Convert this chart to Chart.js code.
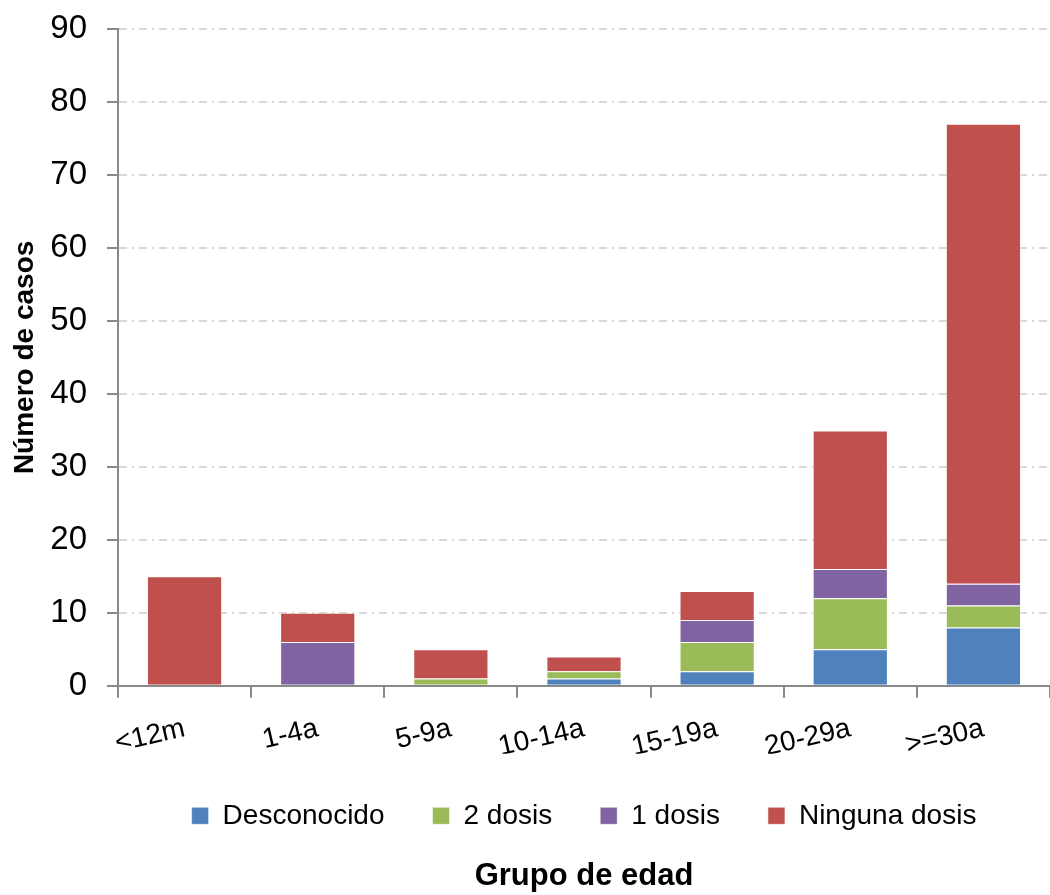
<!DOCTYPE html>
<html>
<head>
<meta charset="utf-8">
<script src="https://cdn.jsdelivr.net/npm/chart.js@4/dist/chart.umd.min.js"></script>
<style>
  body { margin: 0; background: #fff; }
  #wrap { width: 1050px; height: 895px; }
</style>
</head>
<body>
<div id="wrap"><canvas id="edadChart" width="1050" height="895"></canvas></div>
<script>
// Grupos de edad y casos por estado vacunal
const grupos = ['<12m', '1-4a', '5-9a', '10-14a', '15-19a', '20-29a', '>=30a'];
const desconocido = [0, 0, 0, 1, 2, 5, 8];
const dosDosis = [0, 0, 1, 1, 4, 7, 3];
const unaDosis = [0, 6, 0, 0, 3, 4, 3];
const ningunaDosis = [15, 4, 4, 2, 4, 19, 63];
const yTicks = [0, 10, 20, 30, 40, 50, 60, 70, 80, 90];

Chart.defaults.font.family = '"Liberation Sans", Arial, sans-serif';
Chart.defaults.color = '#000';

function serie(label, data, color) {
    return {
        label: label,
        data: data,
        backgroundColor: color,
        borderColor: 'rgba(255,255,255,0.5)',
        borderWidth: 1,
        barPercentage: 0.565,
        categoryPercentage: 1
    };
}

new Chart(document.getElementById('edadChart'), {
    type: 'bar',
    data: {
        labels: grupos,
        datasets: [
            serie('Desconocido', desconocido, '#4F81BD'),
            serie('2 dosis', dosDosis, '#9BBB59'),
            serie('1 dosis', unaDosis, '#8064A2'),
            serie('Ninguna dosis', ningunaDosis, '#C0504D')
        ]
    },
    options: {
        responsive: false,
        animation: false,
        layout: { padding: { top: 29, right: -12, left: 0, bottom: 0 } },
        plugins: {
            tooltip: { enabled: false },
            legend: {
                position: 'bottom',
                fullSize: false,
                labels: {
                    font: { size: 28 },
                    boxWidth: 17,
                    boxHeight: 17,
                    padding: 48
                }
            },
            title: {
                display: true,
                position: 'bottom',
                fullSize: false,
                text: 'Grupo de edad',
                font: { size: 31, weight: 'bold' },
                padding: { top: 18, bottom: 0 }
            }
        },
        scales: {
            x: {
                stacked: true,
                offset: true,
                afterFit: s => { s.height = 68; },
                grid: {
                    display: true,
                    offset: true,
                    drawOnChartArea: false,
                    drawTicks: true,
                    tickLength: 12,
                    color: '#898989',
                    lineWidth: 2
                },
                border: { color: '#898989', width: 2 },
                ticks: {
                    font: { size: 28 },
                    minRotation: 13,
                    maxRotation: 13,
                    padding: 14
                }
            },
            y: {
                stacked: true,
                min: 0,
                max: 90,
                afterBuildTicks: axis => { axis.ticks = yTicks.map(v => ({ value: v })); },
                afterFit: s => {
                    s.width = 118;
                    s.paddingTop = 0;
                    s.paddingBottom = 0;
                },
                grid: {
                    color: '#d9d9d9',
                    lineWidth: 2,
                    tickColor: '#898989',
                    tickLength: 11,
                    drawTicks: true
                },
                border: { color: '#898989', width: 2, dash: [8, 5, 2, 5] },
                ticks: {
                    font: { size: 33 },
                    padding: 20
                },
                title: {
                    display: true,
                    text: 'Número de casos',
                    font: { size: 28, weight: 'bold' },
                    padding: { top: 8, bottom: 0 }
                }
            }
        }
    }
});
</script>
</body>
</html>
